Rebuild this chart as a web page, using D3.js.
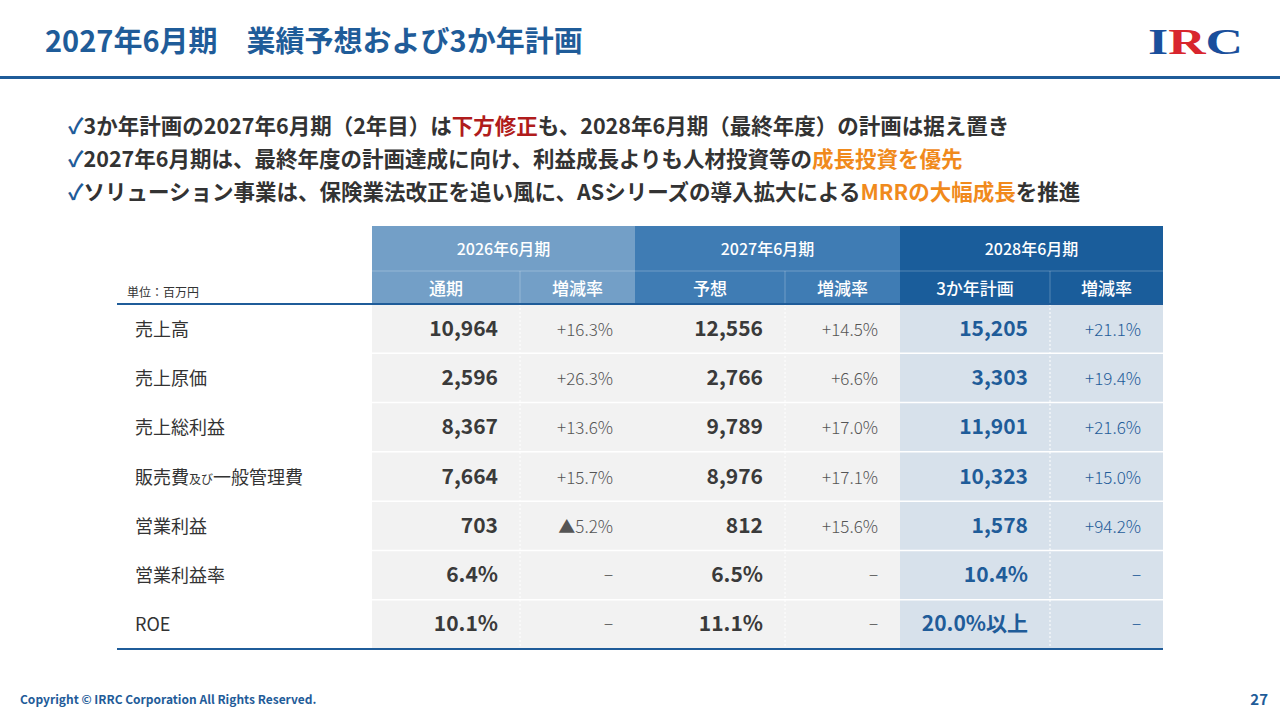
<!DOCTYPE html>
<html><head><meta charset="utf-8">
<script src="https://cdn.jsdelivr.net/npm/d3@7"></script>
<style>body{margin:0;background:#fff}svg{font-family:"Noto Sans CJK JP","Noto Sans",sans-serif}</style>
</head><body><svg id="c" width="1280" height="720"></svg>
<script>
// data
const periods = ["2026年6月期", "2027年6月期", "2028年6月期"];
const subHeads = [["通期", "増減率"], ["予想", "増減率"], ["3か年計画", "増減率"]];
const rowLabels = ["売上高", "売上原価", "売上総利益", "販売費及び一般管理費", "営業利益", "営業利益率", "ROE"];
const fy2026 = ["10,964", "2,596", "8,367", "7,664", "703", "6.4%", "10.1%"];
const fy2026Rate = ["+16.3%", "+26.3%", "+13.6%", "+15.7%", "▲5.2%", "−", "−"];
const fy2027 = ["12,556", "2,766", "9,789", "8,976", "812", "6.5%", "11.1%"];
const fy2027Rate = ["+14.5%", "+6.6%", "+17.0%", "+17.1%", "+15.6%", "−", "−"];
const fy2028 = ["15,205", "3,303", "11,901", "10,323", "1,578", "10.4%", "20.0%以上"];
const fy2028Rate = ["+21.1%", "+19.4%", "+21.6%", "+15.0%", "+94.2%", "−", "−"];

const svg = d3.select("#c");
const blue = "#1f5c99";

// title
svg.append("text").attr("x", 45).attr("y", 52).attr("fill", blue).attr("font-size", 29).attr("font-weight", 700)
  .text("2027年6月期　業績予想および3か年計画");
svg.append("rect").attr("x", 0).attr("y", 76).attr("width", 1280).attr("height", 3).attr("fill", blue);
// logo
const logo = svg.append("text").attr("x", 1148).attr("y", 54).attr("font-family", "Liberation Serif,serif")
  .attr("font-size", 36).attr("font-weight", 700).attr("textLength", 95).attr("lengthAdjust", "spacingAndGlyphs");
logo.append("tspan").attr("fill", "#1a4f9c").text("I");
logo.append("tspan").attr("fill", "#d8262e").text("R");
logo.append("tspan").attr("fill", "#1a4f9c").text("C");

// bullets
const bullets = [
  [["3か年計画の2027年6月期（2年目）は", "#333"], ["下方修正", "#b01c1c"], ["も、2028年6月期（最終年度）の計画は据え置き", "#333"]],
  [["2027年6月期は、最終年度の計画達成に向け、利益成長よりも人材投資等の", "#333"], ["成長投資を優先", "#f08a1c"]],
  [["ソリューション事業は、保険業法改正を追い風に、ASシリーズの導入拡大による", "#333"], ["MRRの大幅成長", "#f08a1c"], ["を推進", "#333"]]
];
bullets.forEach((b, i) => {
  const t = svg.append("text").attr("x", 68).attr("y", 134 + i * 33).attr("font-size", 21.5).attr("font-weight", 700);
  t.append("tspan").attr("fill", blue).text("✓");
  b.forEach(([s, c]) => t.append("tspan").attr("fill", c).text(s));
});

// table
const colEdges = [372, 520, 635, 785, 900, 1050, 1163];
const headCol = ["#739fc7", "#3f7cb4", "#1a5d9b"];
const bodyCol = ["#f2f2f2", "#f2f2f2", "#d7e1eb"];
const y = d3.scaleBand().domain(rowLabels).range([304, 649]);

periods.forEach((p, i) => {
  const x0 = colEdges[i * 2], x1 = colEdges[i * 2 + 2];
  svg.append("rect").attr("x", x0).attr("y", 226).attr("width", x1 - x0).attr("height", 78).attr("fill", headCol[i]);
  svg.append("rect").attr("x", x0).attr("y", 304).attr("width", x1 - x0).attr("height", 345).attr("fill", bodyCol[i]);
  svg.append("text").attr("x", (x0 + x1) / 2).attr("y", 255).attr("text-anchor", "middle").attr("fill", "#fff")
    .attr("font-size", 16).attr("font-weight", 500).text(p);
  subHeads[i].forEach((s, j) => {
    const a = colEdges[i * 2 + j], b = colEdges[i * 2 + j + 1];
    svg.append("text").attr("x", (a + b) / 2).attr("y", 295).attr("text-anchor", "middle").attr("fill", "#fff")
      .attr("font-size", 17).attr("font-weight", 500).text(s);
  });
  svg.append("line").attr("x1", x0).attr("x2", x1).attr("y1", 271).attr("y2", 271).attr("stroke", "#fff").attr("stroke-opacity", 0.25);
  svg.append("line").attr("x1", colEdges[i * 2 + 1]).attr("x2", colEdges[i * 2 + 1]).attr("y1", 271).attr("y2", 304).attr("stroke", "#fff").attr("stroke-opacity", 0.25);
  svg.append("line").attr("x1", colEdges[i * 2 + 1]).attr("x2", colEdges[i * 2 + 1]).attr("y1", 304).attr("y2", 649).attr("stroke", "#fff").attr("stroke-dasharray", "2,2");
});
svg.append("text").attr("x", 127).attr("y", 297).attr("font-size", 12).attr("fill", "#333").text("単位：百万円");

rowLabels.slice(1).forEach(r => {
  svg.append("line").attr("x1", 117).attr("x2", 1163).attr("y1", y(r)).attr("y2", y(r)).attr("stroke", "#fff").attr("stroke-width", 1.5);
});
svg.append("line").attr("x1", 117).attr("x2", 1163).attr("y1", 304).attr("y2", 304).attr("stroke", blue).attr("stroke-width", 2);
svg.append("line").attr("x1", 117).attr("x2", 1163).attr("y1", 649).attr("y2", 649).attr("stroke", blue).attr("stroke-width", 2);

const cols = [[fy2026, fy2026Rate], [fy2027, fy2027Rate], [fy2028, fy2028Rate]];
rowLabels.forEach((r, k) => {
  const cy = y(r) + y.bandwidth() / 2 + 7;
  const lt = svg.append("text").attr("x", 135).attr("y", cy).attr("font-size", 18).attr("fill", "#333");
  if (r === "販売費及び一般管理費") {
    lt.append("tspan").text("販売費"); lt.append("tspan").attr("font-size", 12).text("及び"); lt.append("tspan").text("一般管理費");
  } else lt.text(r);
  cols.forEach(([v, rt], i) => {
    const c = i === 2 ? blue : "#3a3a3a";
    svg.append("text").attr("x", colEdges[i * 2 + 1] - 22).attr("y", cy).attr("text-anchor", "end")
      .attr("font-size", 21).attr("font-weight", 600).attr("fill", c).text(v[k]);
    svg.append("text").attr("x", colEdges[i * 2 + 2] - 22).attr("y", cy).attr("text-anchor", "end")
      .attr("font-size", 17).attr("font-weight", 300).attr("fill", i === 2 ? blue : "#555").text(rt[k]);
  });
});

// footer
svg.append("text").attr("x", 20).attr("y", 704).attr("font-size", 12).attr("font-weight", 700).attr("fill", blue)
  .text("Copyright © IRRC Corporation All Rights Reserved.");
svg.append("text").attr("x", 1268).attr("y", 705).attr("text-anchor", "end").attr("font-size", 15).attr("font-weight", 700).attr("fill", blue).text("27");
</script></body></html>
